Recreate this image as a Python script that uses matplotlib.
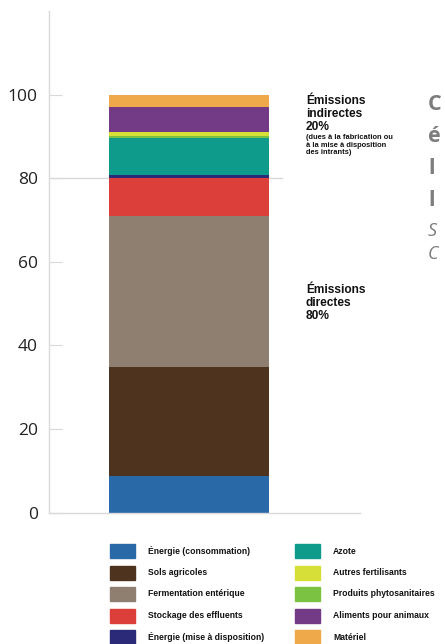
import matplotlib.pyplot as plt
from matplotlib.patches import Rectangle

# sources d'émissions, du bas vers le haut de la barre (%)
sources = ['Énergie (consommation)', 'Sols agricoles', 'Fermentation entérique',
           'Stockage des effluents', 'Énergie (mise à disposition)', 'Azote',
           'Produits phytosanitaires', 'Autres fertilisants', 'Aliments pour animaux',
           'Matériel']
parts = [8.8, 26.0, 36.2, 9.0, 0.8, 8.9, 0.4, 1.0, 6.0, 2.9]
colors = ['#2a69a8', '#4e341f', '#8f7f71', '#dc3f39', '#2a2a78', '#0e9b8c',
          '#7cc242', '#d5df38', '#733a85', '#f0a94a']

# ordre de la légende (deux colonnes)
legend_col1 = ['Énergie (consommation)', 'Sols agricoles', 'Fermentation entérique',
               'Stockage des effluents', 'Énergie (mise à disposition)']
legend_col2 = ['Azote', 'Autres fertilisants', 'Produits phytosanitaires',
               'Aliments pour animaux', 'Matériel']

yticks = [0, 20, 40, 60, 80, 100]

# début du titre en marge droite (coupé par le bord)
title_bold = ['C', 'é', 'l', 'l']
title_italic = ['S', 'C']

fig = plt.figure(figsize=(4.45, 6.44), dpi=100)
ax = fig.add_axes([0.110, 0.2039, 0.699, 0.779])

grey = '#d9d9d9'
ax.axhline(80, xmin=0, xmax=0.75, color=grey, lw=1, zorder=0)

bottom = 0
for val, col in zip(parts, colors):
    ax.bar(0.45, val, width=0.514, bottom=bottom, color=col, zorder=2)
    bottom += val

ax.set_xlim(0, 1)
ax.set_ylim(0, 120)
ax.set_xticks([])
ax.set_yticks(yticks)
ax.tick_params(axis='y', direction='in', length=9, color=grey, labelsize=12.5,
               pad=8, labelcolor='#222222')
for lab in ax.get_yticklabels():
    lab.set_family('Open Sans')
for s in ['top', 'right']:
    ax.spines[s].set_visible(False)
for s in ['left', 'bottom']:
    ax.spines[s].set_color(grey)
    ax.spines[s].set_linewidth(1)

bold = dict(family='Liberation Sans', weight='bold', color='#111111')
fig.text(306 / 445, 1 - 95 / 644, 'Émissions\nindirectes\n20%', fontsize=8.6,
         va='top', linespacing=1.12, **bold)
fig.text(306 / 445, 1 - 134 / 644,
         '(dues à la fabrication ou\nà la mise à disposition\ndes intrants)',
         fontsize=5.4, va='top', linespacing=1.12, **bold)
fig.text(306 / 445, 1 - 284 / 644, 'Émissions\ndirectes\n80%', fontsize=8.6,
         va='top', linespacing=1.12, **bold)

for i, t in enumerate(title_bold):
    fig.text(428 / 445, 1 - (105 + i * 32) / 644, t, fontsize=15.5,
             family='Open Sans', weight='bold', color='#7d7d7d', va='center')
for i, t in enumerate(title_italic):
    fig.text(428 / 445, 1 - (231 + i * 23) / 644, t, fontsize=13,
             family='Open Sans', style='italic', color='#7d7d7d', va='center')

# légende
for col_x, names in [(110, legend_col1), (295, legend_col2)]:
    for i, name in enumerate(names):
        yc = 551 + i * 21.5
        c = colors[sources.index(name)]
        fig.add_artist(Rectangle((col_x / 445, 1 - (yc + 7) / 644), 25 / 445, 14 / 644,
                                 transform=fig.transFigure, color=c))
        fig.text((col_x + 38) / 445, 1 - yc / 644, name, fontsize=6.2,
                 va='center', **bold)

fig.savefig('out.png', dpi=100)
